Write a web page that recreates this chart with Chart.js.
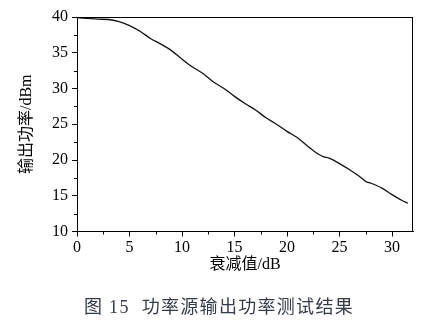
<!DOCTYPE html>
<html>
<head>
<meta charset="utf-8">
<script src="https://cdn.jsdelivr.net/npm/chart.js@4.4.1/dist/chart.umd.min.js"></script>
<style>
  html, body { margin: 0; padding: 0; background: #fff; }
  #wrap { position: relative; width: 438px; height: 326px; }
  #caption {
    position: absolute; left: 0; top: 292px; width: 438px; text-align: center;
    font-family: "Liberation Serif", "Noto Sans CJK SC", serif;
    font-size: 18px; color: #333c48; letter-spacing: 1.3px;
  }
  #caption .gap { display: inline-block; width: 12px; }
</style>
</head>
<body>
<div id="wrap">
  <canvas id="powerChart" width="438" height="326"></canvas>
  <div id="caption">图 15<span class="gap"></span>功率源输出功率测试结果</div>
</div>
<script>
// 衰减值 (dB) 与 输出功率 (dBm)
const attenuation = [0, 1, 2, 3, 4, 5, 6, 7, 8, 9, 10, 11, 12, 13, 14, 15, 16, 17, 18, 19, 20,
  21, 22, 23, 23.5, 24, 25, 26, 27, 27.5, 28, 29, 30, 31, 31.5];
const outputPower = [39.9, 39.8, 39.7, 39.65, 39.35, 38.8, 38.0, 37.0, 36.2, 35.3, 34.1,
  33.0, 32.1, 30.9, 30.0, 28.9, 27.9, 27.0, 25.9, 25.0, 24.0,
  23.1, 21.9, 20.8, 20.45, 20.25, 19.5, 18.6, 17.6, 17.0, 16.75, 16.1, 15.15, 14.3, 13.95];

const xTicks = [0, 5, 10, 15, 20, 25, 30];
const xMinorTicks = [2.5, 7.5, 12.5, 17.5, 22.5, 27.5];
const yTicks = [10, 15, 20, 25, 30, 35, 40];
const yMinorTicks = [12.5, 17.5, 22.5, 27.5, 32.5, 37.5];

const serif = "'Liberation Serif', 'Noto Sans CJK SC', serif";

// 📌 minor ticks + top/right frame
const framePlugin = {
  id: 'frame',
  afterDraw(chart) {
    const { ctx, chartArea: a, scales } = chart;
    ctx.save();
    ctx.strokeStyle = '#000';
    ctx.lineWidth = 1;
    ctx.beginPath();
    xMinorTicks.forEach(v => {
      const x = Math.round(scales.x.getPixelForValue(v)) + 0.5;
      ctx.moveTo(x, a.bottom);
      ctx.lineTo(x, a.bottom + 3);
    });
    yMinorTicks.forEach(v => {
      const y = Math.round(scales.y.getPixelForValue(v)) + 0.5;
      ctx.moveTo(a.left, y);
      ctx.lineTo(a.left - 3, y);
    });
    ctx.moveTo(a.left, a.top + 0.5);
    ctx.lineTo(a.right, a.top + 0.5);
    ctx.moveTo(a.right - 0.5, a.top);
    ctx.lineTo(a.right - 0.5, a.bottom);
    ctx.stroke();
    ctx.restore();
  }
};

new Chart(document.getElementById('powerChart'), {
  type: 'line',
  data: {
    datasets: [{
      data: attenuation.map((x, i) => ({ x, y: outputPower[i] })),
      borderColor: '#111',
      borderWidth: 1.3,
      pointRadius: 0,
      cubicInterpolationMode: 'monotone',
      fill: false
    }]
  },
  options: {
    responsive: false,
    devicePixelRatio: 1,
    animation: false,
    layout: { padding: { left: 0, top: 17, right: 25, bottom: 50 } },
    plugins: { legend: { display: false }, tooltip: { enabled: false } },
    scales: {
      x: {
        type: 'linear',
        min: 0,
        max: 32,
        afterBuildTicks: s => { s.ticks = xTicks.map(v => ({ value: v })); },
        afterFit: s => { s.height = 44.5; },
        grid: { drawOnChartArea: false, drawTicks: true, tickLength: 5, color: '#000' },
        border: { display: true, color: '#000', width: 1 },
        ticks: { color: '#000', font: { family: serif, size: 16 }, padding: 2, maxRotation: 0 },
        title: {
          display: true, text: '衰减值/dB', color: '#000',
          font: { family: serif, size: 16 }, padding: { top: 0, bottom: 2 }
        }
      },
      y: {
        type: 'linear',
        min: 10,
        max: 40,
        afterBuildTicks: s => { s.ticks = yTicks.map(v => ({ value: v })); },
        afterFit: s => { s.width = 77; },
        grid: { drawOnChartArea: false, drawTicks: true, tickLength: 5, color: '#000' },
        border: { display: true, color: '#000', width: 1 },
        ticks: { color: '#000', font: { family: serif, size: 16 }, padding: 4 },
        title: {
          display: true, text: '输出功率/dBm', color: '#000',
          font: { family: serif, size: 16 }, padding: { top: 17, bottom: 0 }
        }
      }
    }
  },
  plugins: [framePlugin]
});
</script>
</body>
</html>
